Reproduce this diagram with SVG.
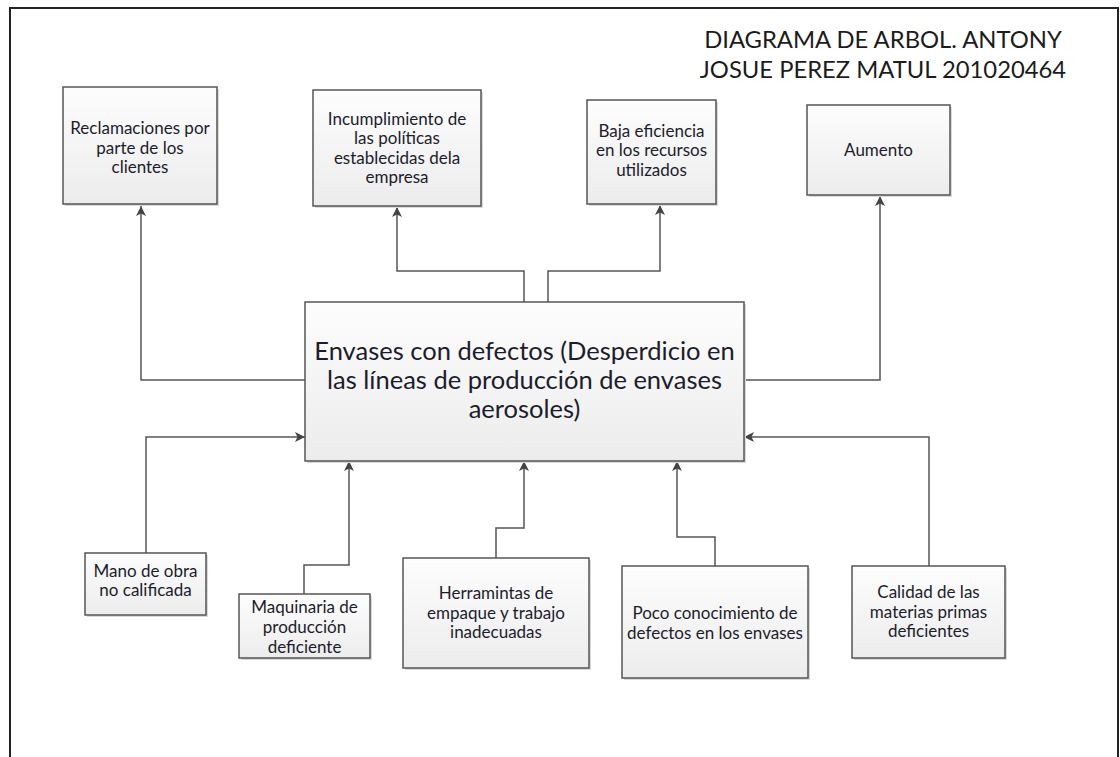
<svg xmlns="http://www.w3.org/2000/svg" width="1120" height="757" viewBox="0 0 1120 757">
<style>
.box{fill:url(#g);stroke:#555;stroke-width:1.5}
.sh{fill:#d9d9d9}
.t{font-family:Lato,"Open Sans","Liberation Sans",sans-serif;font-size:17px;fill:#1c1c2c;text-anchor:middle}
.big{font-size:25.5px}
.title{font-size:23.8px;fill:#1c1c1c}
.c{fill:none;stroke:#555;stroke-width:1.5;marker-end:url(#a)}
</style>
<defs>
<linearGradient id="g" x1="0" y1="0" x2="0" y2="1">
<stop offset="0" stop-color="#fdfdfd"/>
<stop offset="1" stop-color="#ececec"/>
</linearGradient>
<marker id="a" viewBox="0 0 10 10" refX="10" refY="5" markerWidth="10" markerHeight="10" markerUnits="userSpaceOnUse" orient="auto">
<path d="M0,0 L10,5 L0,10 L2.5,5 z" fill="#444"/>
</marker>
</defs>
<rect x="0" y="0" width="1120" height="757" fill="#fff"/>
<rect x="10" y="8" width="1108" height="760" fill="none" stroke="#222" stroke-width="2"/>
<g id="title">
<text class="t title" x="883" y="48">DIAGRAMA DE ARBOL. ANTONY</text>
<text class="t title" x="883" y="78">JOSUE PEREZ MATUL 201020464</text>
</g>
<g id="connectors">
<path class="c" d="M305,380 H141 V206"/>
<path class="c" d="M524,302 V271 H397 V207"/>
<path class="c" d="M548,302 V271 H660 V205"/>
<path class="c" d="M744,380 H880 V196"/>
<path class="c" d="M146,553 V437 H305"/>
<path class="c" d="M304,594 V565 H349 V461"/>
<path class="c" d="M496,558 V528 H524 V461"/>
<path class="c" d="M715,566 V537 H677 V461"/>
<path class="c" d="M929,566 V437 H744"/>
</g>
<g id="n-center">
<rect class="sh" x="307" y="304" width="439" height="159"/>
<rect class="box" x="305" y="302" width="439" height="159"/>
<text class="t big" x="524.5" y="360">Envases con defectos (Desperdicio en</text>
<text class="t big" x="524.5" y="389">las líneas de producción de envases</text>
<text class="t big" x="524.5" y="418">aerosoles)</text>
</g>
<g id="n-reclamaciones">
<rect class="sh" x="65" y="89" width="154" height="117"/>
<rect class="box" x="63" y="87" width="154" height="117"/>
<text class="t" x="140" y="134">Reclamaciones por</text>
<text class="t" x="140" y="154">parte de los</text>
<text class="t" x="140" y="173">clientes</text>
</g>
<g id="n-incumplimiento">
<rect class="sh" x="315" y="92" width="168" height="116"/>
<rect class="box" x="313" y="90" width="168" height="116"/>
<text class="t" x="397" y="125">Incumplimiento de</text>
<text class="t" x="397" y="144">las políticas</text>
<text class="t" x="397" y="164">establecidas dela</text>
<text class="t" x="397" y="183">empresa</text>
</g>
<g id="n-baja">
<rect class="sh" x="589" y="102" width="129" height="104"/>
<rect class="box" x="587" y="100" width="129" height="104"/>
<text class="t" x="651.5" y="137">Baja eficiencia</text>
<text class="t" x="651.5" y="156">en los recursos</text>
<text class="t" x="651.5" y="176">utilizados</text>
</g>
<g id="n-aumento">
<rect class="sh" x="809" y="107" width="143" height="90"/>
<rect class="box" x="807" y="105" width="143" height="90"/>
<text class="t" x="878.5" y="156">Aumento</text>
</g>
<g id="n-mano">
<rect class="sh" x="87" y="555" width="121" height="62"/>
<rect class="box" x="85" y="553" width="121" height="62"/>
<text class="t" x="145.5" y="577">Mano de obra</text>
<text class="t" x="145.5" y="596">no calificada</text>
</g>
<g id="n-maquinaria">
<rect class="sh" x="241" y="596" width="131" height="64"/>
<rect class="box" x="239" y="594" width="131" height="64"/>
<text class="t" x="304.5" y="613">Maquinaria de</text>
<text class="t" x="304.5" y="633">producción</text>
<text class="t" x="304.5" y="653">deficiente</text>
</g>
<g id="n-herramintas">
<rect class="sh" x="405" y="560" width="186" height="110"/>
<rect class="box" x="403" y="558" width="186" height="110"/>
<text class="t" x="496" y="599">Herramintas de</text>
<text class="t" x="496" y="619">empaque y trabajo</text>
<text class="t" x="496" y="638">inadecuadas</text>
</g>
<g id="n-poco">
<rect class="sh" x="624" y="568" width="186" height="112"/>
<rect class="box" x="622" y="566" width="186" height="112"/>
<text class="t" x="715" y="619">Poco conocimiento de</text>
<text class="t" x="715" y="639">defectos en los envases</text>
</g>
<g id="n-calidad">
<rect class="sh" x="854" y="568" width="153" height="92"/>
<rect class="box" x="852" y="566" width="153" height="92"/>
<text class="t" x="928.5" y="598">Calidad de las</text>
<text class="t" x="928.5" y="618">materias primas</text>
<text class="t" x="928.5" y="637">deficientes</text>
</g>
</svg>
